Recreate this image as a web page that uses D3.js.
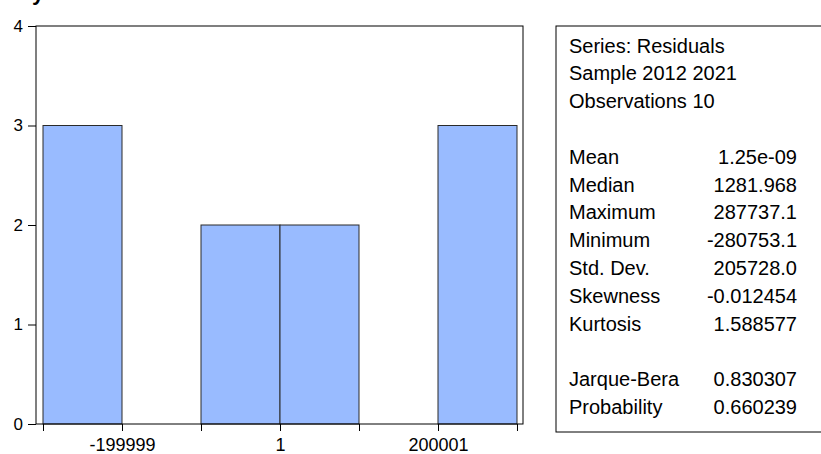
<!DOCTYPE html>
<html><head><meta charset="utf-8">
<script src="https://cdn.jsdelivr.net/npm/d3@7/dist/d3.min.js"></script>
<style>body{margin:0;background:#fff}svg{display:block}text{font-family:Arial,"Liberation Sans",sans-serif;fill:#000}</style>
</head><body>
<svg id="c" width="821" height="454"></svg>
<script>
const binEdges = [-299999, -199999, -99999, 1, 100001, 200001, 300001];
const counts = [3, 0, 2, 2, 0, 3];
const xTickLabels = [-199999, 1, 200001];
const yTicks = [0, 1, 2, 3, 4];
const statLabels = ["Series: Residuals", "Sample 2012 2021", "Observations 10", "", "Mean", "Median", "Maximum", "Minimum", "Std. Dev.", "Skewness", "Kurtosis", "", "Jarque-Bera", "Probability"];
const statValues = ["", "", "", "", "1.25e-09", "1281.968", "287737.1", "-280753.1", "205728.0", "-0.012454", "1.588577", "", "0.830307", "0.660239"];

const svg = d3.select("#c");
const L = 36, R = 523, T = 26, B = 424;
const x = d3.scaleLinear().domain([-308860, 307596]).range([L, R]);
const y = d3.scaleLinear().domain([0, 4]).range([B, T]);
const FF = "Arial, 'Liberation Sans', sans-serif";

// partial title glyph at top (cut off in the original)
svg.append("text").attr("x", 32).attr("y", 0).attr("font-size", 22).attr("font-weight", "bold").text("y");

const bins = counts.map((c, i) => ({x0: binEdges[i], x1: binEdges[i + 1], c}));
svg.append("g").selectAll("rect").data(bins.filter(d => d.c > 0)).join("rect")
  .attr("x", d => x(d.x0)).attr("y", d => y(d.c))
  .attr("width", d => x(d.x1) - x(d.x0)).attr("height", d => y(0) - y(d.c))
  .attr("fill", "#99bbff").attr("stroke", "#2a2a2a").attr("stroke-width", 1);

// frame
svg.append("rect").attr("x", L).attr("y", T).attr("width", R - L).attr("height", B - T)
  .attr("fill", "none").attr("stroke", "#000").attr("stroke-width", 1);

// y axis
const ya = d3.axisLeft(y).tickValues(yTicks).tickSize(8).tickPadding(5).tickFormat(d3.format("d"));
svg.append("g").attr("transform", `translate(${L},0)`).call(ya)
  .call(g => g.select(".domain").remove())
  .call(g => g.selectAll("text").attr("font-size", 17).attr("font-family", FF));

// x axis
const xa = d3.axisBottom(x).tickValues(binEdges).tickSize(7).tickPadding(7)
  .tickFormat(d => xTickLabels.includes(d) ? String(d) : "");
svg.append("g").attr("transform", `translate(0,${B})`).call(xa)
  .call(g => g.select(".domain").remove())
  .call(g => g.selectAll("text").attr("font-size", 18).attr("font-family", FF));

// stats box
svg.append("rect").attr("x", 556).attr("y", 26).attr("width", 300).attr("height", 406)
  .attr("fill", "none").attr("stroke", "#000").attr("stroke-width", 1);
const st = svg.append("g");
statLabels.forEach((s, i) => {
  const yy = 45.5 + i * 27.8 + 7;
  st.append("text").attr("x", 569).attr("y", yy).attr("font-size", 20).text(s);
  if (statValues[i]) st.append("text").attr("x", 797).attr("y", yy).attr("font-size", 20).attr("text-anchor", "end").text(statValues[i]);
});
</script>
</body></html>
